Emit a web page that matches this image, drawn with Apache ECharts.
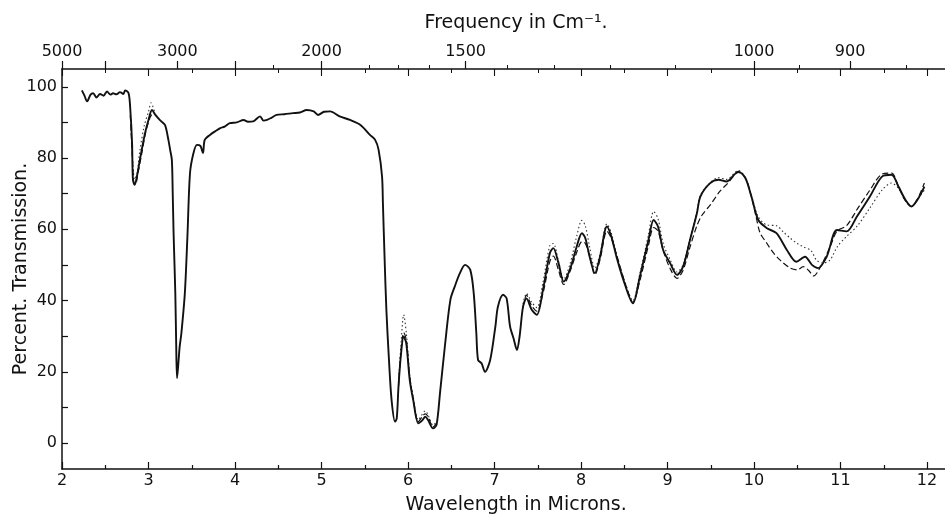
<!DOCTYPE html>
<html>
<head>
<meta charset="utf-8">
<script src="https://cdn.jsdelivr.net/npm/echarts@6/dist/echarts.min.js"></script>
<style>html,body{margin:0;padding:0;background:#fff;}#c{width:945px;height:515px;}</style>
</head>
<body>
<div id="c"></div>
<script>
// ---- data (wavelength in microns, percent transmission) ----
const solidWl = [2.23,2.26,2.29,2.33,2.36,2.40,2.44,2.48,2.52,2.56,2.59,2.63,2.67,2.71,2.73,2.77,2.79,2.81,2.82,2.84,2.87,2.90,2.96,3.00,3.04,3.08,3.13,3.19,3.23,3.25,3.27,3.28,3.29,3.31,3.32,3.33,3.36,3.38,3.42,3.45,3.48,3.52,3.56,3.60,3.63,3.65,3.71,3.77,3.83,3.88,3.94,4.02,4.10,4.15,4.21,4.29,4.33,4.37,4.42,4.48,4.57,4.67,4.75,4.83,4.91,4.96,5.03,5.10,5.21,5.33,5.45,5.56,5.62,5.66,5.70,5.71,5.73,5.75,5.78,5.81,5.85,5.87,5.89,5.92,5.95,5.98,6.02,6.06,6.12,6.17,6.20,6.23,6.29,6.33,6.37,6.43,6.49,6.54,6.60,6.66,6.72,6.76,6.79,6.81,6.85,6.89,6.95,7.01,7.04,7.10,7.14,7.18,7.22,7.26,7.29,7.33,7.37,7.43,7.49,7.56,7.64,7.68,7.74,7.80,7.87,7.95,8.01,8.05,8.10,8.16,8.22,8.30,8.35,8.41,8.49,8.60,8.68,8.78,8.84,8.89,8.95,9.03,9.11,9.18,9.26,9.34,9.38,9.49,9.59,9.68,9.82,9.90,9.97,10.05,10.15,10.26,10.38,10.49,10.59,10.67,10.74,10.84,10.96,11.07,11.19,11.34,11.48,11.59,11.67,11.75,11.82,11.89,11.97];
const solidT  = [99,97.5,95.9,97.8,98.2,97.0,98.0,97.5,98.7,97.8,98.2,97.9,98.5,98.0,99.0,98.2,93.5,84.2,73.9,72.5,75.3,79.5,87,90.7,93.5,92.1,90.7,89.3,85.1,82.3,79.5,70.1,58.9,42,28,18.2,27,30.8,42,58,75.8,81.4,83.7,83.4,81.4,85.1,86.5,87.5,88.4,88.8,89.8,90.0,90.7,90.2,90.3,91.7,90.5,90.7,91.3,92.1,92.3,92.6,92.8,93.5,93.1,92.1,93.0,93.1,91.7,90.7,89.3,86.5,85.1,82.3,74.8,67.3,51.4,37.4,23.3,12.1,6.0,6.9,15.8,25.2,29.9,28,17.7,12.1,5.5,6.5,7.4,6.5,4.1,5.1,14,28,40.2,43.9,47.7,50,48.6,42,30.8,23.3,22.4,20,23.3,32.7,38.3,41.6,40.6,32.7,29.4,26.1,29.9,38.3,40.6,37.4,36,43,53.3,54.7,50.5,45.3,48.6,55.1,58.9,57.5,52.3,47.7,52.3,60.8,58,52.3,45.8,39.2,46.7,57,62.6,60.8,54.2,50.5,47.2,49.5,57,64.5,69.2,72.9,73.9,73.4,76.2,74.4,69.2,62.6,60.3,58.9,54.2,50.9,52.3,50,49.1,52.3,59.8,59.4,63.6,69.2,74.8,75.3,72,68.3,66.4,68.3,72];

// dashed run (null = gap)
const dashWl = [2.79,2.81,2.83,2.85,2.88,2.92,2.97,3.02,3.06,3.07,5.89,5.92,5.95,5.98,6.02,6.06,6.12,6.20,6.23,6.29,6.33,6.34,7.33,7.37,7.43,7.49,7.56,7.64,7.68,7.74,7.80,7.87,7.95,8.01,8.05,8.10,8.16,8.22,8.30,8.35,8.41,8.47,8.55,8.60,8.68,8.78,8.84,8.89,8.95,9.03,9.11,9.18,9.26,9.34,9.40,9.50,9.60,9.70,9.82,9.90,9.97,10.02,10.07,10.15,10.22,10.30,10.42,10.50,10.57,10.63,10.69,10.78,10.88,10.96,11.07,11.19,11.34,11.48,11.59,11.67,11.75,11.82,11.89,11.97];
const dashT  = [92,82,73,72.8,76,81,87.5,91.5,93,null,16,26,31,29,18.5,12.5,6,8.2,7.5,4.5,5.5,null,38,41.5,38.5,37,42,51,52.5,48.5,44.5,48,53.5,56.5,56,52.5,47.2,51.5,59.5,57.5,53,48,42,39.5,45.5,55.5,60.5,59.5,54,49,46.2,48.5,55,61,64,67,70.5,73,76,74.4,69.2,64,59,56,53.5,51.4,49.1,48.6,49.5,48.5,46.9,50,55.1,59.5,61,65.5,71,75.5,75.8,72,68,66.4,68.5,73];

// dotted run (null = gap)
const dotWl = [2.80,2.82,2.84,2.87,2.90,2.95,3.00,3.03,3.07,3.08,5.89,5.92,5.95,5.98,6.02,6.06,6.12,6.20,6.23,6.29,6.33,6.34,7.33,7.37,7.43,7.49,7.56,7.64,7.68,7.74,7.80,7.87,7.95,8.01,8.05,8.10,8.16,8.22,8.30,8.35,8.41,8.49,8.60,8.68,8.78,8.84,8.89,8.95,9.03,9.11,9.18,9.26,9.34,9.38,9.49,9.59,9.68,9.82,9.90,9.97,10.05,10.15,10.26,10.35,10.42,10.50,10.57,10.66,10.72,10.80,10.88,10.96,11.07,11.19,11.34,11.48,11.59,11.67,11.75,11.82,11.89,11.97];
const dotT  = [88,78,74,76,82,89,93,95.5,93,null,17,28,36,31,19,13,6.5,9,8,5,6,null,39,42,39.5,38,45,55.5,56,51,46,50,58,62.5,61,55,49,53,61.5,59,53,46.5,40,47.5,58.5,65,63,56,51.5,48,50,57.5,65,69.5,73,74.5,74,76.5,74.5,69.5,63.5,61.2,61.0,59,57.5,56,55.1,54,51.4,50.5,51.4,55,58,60.8,66,71,73,71.5,68,66.4,68.5,71];

// axis tick values
const wlLabels = [2,3,4,5,6,7,8,9,10,11,12];
const freqLabels = [5000,3000,2000,1500,1000,900];
const freqMajorTicks = [5000,4000,3000,2500,2000,1500,1000,900];
const freqMinorTicks = [2250,1800,1700,1600,1400,1300,1200,1100,950,850];
const yLabels = [0,20,40,60,80,100];

const pairs = (xs, ys) => xs.map((x, i) => [x, ys[i] == null ? '-' : ys[i]]);
const FONT = 'DejaVu Sans';
const INK = '#111';

const baseX = {
  type: 'value', min: 2, max: 12.5, splitLine: { show: false }
};

const chart = echarts.init(document.getElementById('c'), null, { renderer: 'canvas' });
chart.setOption({
  backgroundColor: '#fff',
  animation: false,
  grid: { left: 62, right: -25.25, top: 69, bottom: 46, containLabel: false, outerBoundsMode: 'none' },
  xAxis: [
    Object.assign({}, baseX, {
      position: 'bottom', interval: 1,
      axisLine: { show: true, onZero: false, lineStyle: { color: INK, width: 1.5 } },
      axisTick: { show: true, inside: true, length: 7, lineStyle: { color: INK, width: 1.2 } },
      minorTick: { show: true, splitNumber: 2, length: 4, lineStyle: { color: INK, width: 1.2 } },
      axisLabel: { show: true, margin: 4, color: INK, fontFamily: FONT, fontSize: 16,
        formatter: v => (wlLabels.indexOf(v) >= 0 ? String(v) : '') },
      name: 'Wavelength in Microns.', nameLocation: 'middle', nameGap: 27,
      nameTextStyle: { color: INK, fontFamily: FONT, fontSize: 19 }
    }),
    Object.assign({}, baseX, {
      position: 'top',
      axisLine: { show: true, onZero: false, lineStyle: { color: INK, width: 1.5 } },
      axisTick: { show: true, inside: false, length: 8, customValues: freqMajorTicks.map(f => 10000 / f),
        lineStyle: { color: INK, width: 1.2 } },
      axisLabel: { show: true, margin: 9, color: INK, fontFamily: FONT, fontSize: 16,
        customValues: freqLabels.map(f => 10000 / f),
        formatter: v => String(Math.round(10000 / v / 10) * 10) },
      name: 'Frequency in Cm⁻¹.', nameLocation: 'middle', nameGap: 36,
      nameTextStyle: { color: INK, fontFamily: FONT, fontSize: 19 }
    }),
    Object.assign({}, baseX, {
      position: 'top',
      axisLine: { show: false, onZero: false },
      axisTick: { show: true, inside: false, length: 4, customValues: freqMinorTicks.map(f => 10000 / f),
        lineStyle: { color: INK, width: 1 } },
      axisLabel: { show: false }
    }),
    Object.assign({}, baseX, {
      position: 'top', interval: 1,
      axisLine: { show: false, onZero: false },
      axisTick: { show: true, inside: true, length: 7, lineStyle: { color: INK, width: 1.1 } },
      minorTick: { show: true, splitNumber: 2, length: 4, lineStyle: { color: INK, width: 1 } },
      axisLabel: { show: false }
    })
  ],
  yAxis: {
    type: 'value', min: -7.3, max: 105, splitNumber: 11,
    splitLine: { show: false },
    axisLine: { show: true, onZero: false, lineStyle: { color: INK, width: 1.5 } },
    axisTick: { show: true, inside: true, length: 6, lineStyle: { color: INK, width: 1.2 } },
    axisLabel: { show: true, margin: 5, color: INK, fontFamily: FONT, fontSize: 16,
      showMinLabel: false, showMaxLabel: false,
      formatter: v => (yLabels.indexOf(v) >= 0 ? String(v) : '') },
    name: 'Percent. Transmission.', nameLocation: 'middle', nameGap: 31, nameRotate: 90,
    nameMoveOverlap: false,
    nameTextStyle: { color: INK, fontFamily: FONT, fontSize: 19 }
  },
  series: [
    { type: 'line', name: 'dotted', xAxisIndex: 0, data: pairs(dotWl, dotT), showSymbol: false,
      smooth: 0.3, connectNulls: false, lineStyle: { color: '#333', width: 1.1, type: [1.5, 2.5] } },
    { type: 'line', name: 'dashed', xAxisIndex: 0, data: pairs(dashWl, dashT), showSymbol: false,
      smooth: 0.3, connectNulls: false, lineStyle: { color: INK, width: 1.2, type: [6, 3] } },
    { type: 'line', name: 'solid', xAxisIndex: 0, data: pairs(solidWl, solidT), showSymbol: false,
      smooth: 0.3, lineStyle: { color: INK, width: 1.9 } }
  ]
});
</script>
</body>
</html>
